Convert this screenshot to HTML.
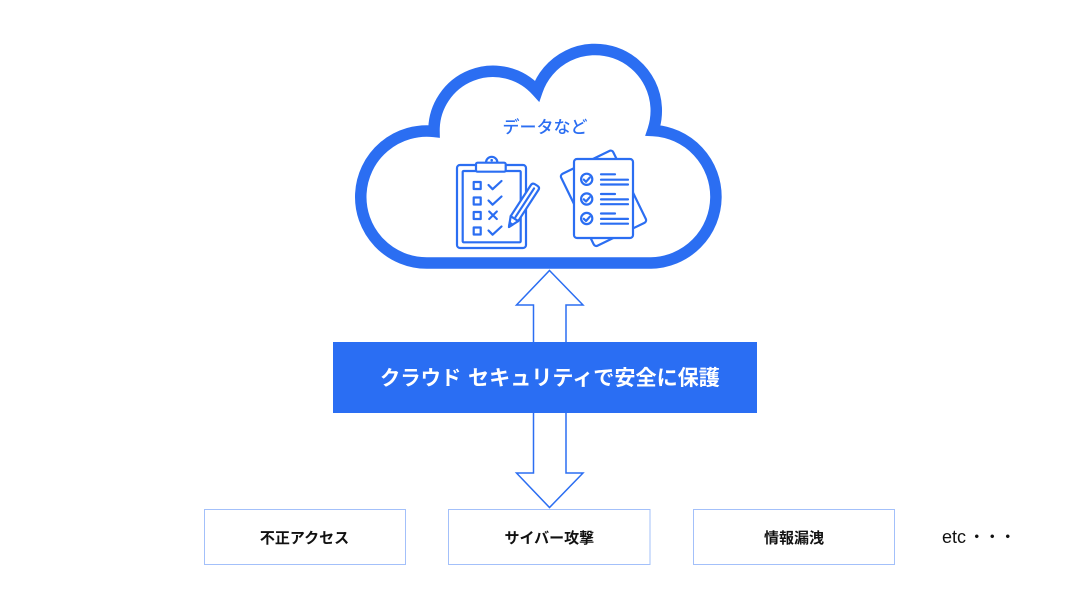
<!DOCTYPE html>
<html>
<head>
<meta charset="utf-8">
<style>
html,body{margin:0;padding:0;background:#fff;}
body{width:1080px;height:608px;overflow:hidden;}
svg{display:block;}
text{font-family:"Liberation Sans","Noto Sans CJK JP",sans-serif;}
</style>
</head>
<body>
<svg width="1080" height="608" viewBox="0 0 1080 608" xmlns="http://www.w3.org/2000/svg">
  <rect width="1080" height="608" fill="#ffffff"/>

  <!-- Cloud -->
  <path d="M 427 263 A 66 66 0 1 1 434 131.4 A 59 59 0 0 1 537 91 A 60.5 60.5 0 1 1 653 130.5 A 66.3 66.3 0 0 1 651 263 Z"
        fill="#ffffff" stroke="#2B6EF2" stroke-width="11.5" stroke-linejoin="miter"/>

  <text x="545" y="133" text-anchor="middle" font-size="17" font-weight="500" fill="#2B6EF2">データなど</text>

  <!-- Clipboard icon -->
  <g fill="none" stroke="#2B6EF2" stroke-width="2.2" stroke-linecap="round" stroke-linejoin="round">
    <rect x="457" y="165" width="69" height="83" rx="3" fill="#fff"/>
    <rect x="462.7" y="171" width="58" height="71.3" rx="1"/>
    <path d="M 486 162.5 A 5.7 5.7 0 0 1 497.4 162.5" fill="#fff"/>
    <rect x="476" y="162.7" width="29.7" height="9" rx="1.5" fill="#fff"/>
    <circle cx="491.7" cy="160.2" r="0.8" fill="#2B6EF2" stroke-width="1"/>
    <rect x="473.7" y="182" width="7" height="7"/>
    <rect x="473.7" y="197.5" width="7" height="7"/>
    <rect x="473.7" y="212" width="7" height="7"/>
    <rect x="473.7" y="227.5" width="7" height="7"/>
    <polyline points="488.5,185 492.6,189.2 501.5,181"/>
    <polyline points="488.5,200.5 492.6,204.7 501.5,196.5"/>
    <path d="M 489.2 211.5 L 496.8 219 M 496.8 211.5 L 489.2 219"/>
    <polyline points="488.5,230.5 492.6,234.7 501.5,226.5"/>
    <g transform="translate(509,227) rotate(33)">
      <path d="M 0 0 L -4.5 -10 L -4.5 -47 Q -4.5 -50 -1.5 -50 L 1.5 -50 Q 4.5 -50 4.5 -47 L 4.5 -10 Z" fill="#fff"/>
      <path d="M -4.5 -10 L 4.5 -10"/>
      <path d="M 0 -12 L 0 -46"/>
      <path d="M 0 0 L -1.8 -4 L 1.8 -4 Z" fill="#2B6EF2"/>
    </g>
  </g>

  <!-- Document icon -->
  <g fill="none" stroke="#2B6EF2" stroke-width="2.2" stroke-linecap="round" stroke-linejoin="round">
    <rect x="-29" y="-40" width="58" height="80" rx="3" fill="#fff" transform="translate(603.5,198.3) rotate(-26)"/>
    <rect x="574" y="159" width="59" height="79" rx="3" fill="#fff"/>
    <circle cx="586.7" cy="179.3" r="5.6"/>
    <circle cx="586.7" cy="199" r="5.6"/>
    <circle cx="586.7" cy="218.5" r="5.6"/>
    <polyline points="583.8,179.6 586,181.8 589.7,177.6"/>
    <polyline points="583.8,199.3 586,201.5 589.7,197.3"/>
    <polyline points="583.8,218.8 586,221 589.7,216.8"/>
    <path d="M 601 174.3 L 615 174.3 M 601 179.7 L 628 179.7 M 601 184.5 L 628 184.5"/>
    <path d="M 601 194 L 615 194 M 601 199.4 L 628 199.4 M 601 204.2 L 628 204.2"/>
    <path d="M 601 213.5 L 615 213.5 M 601 218.9 L 628 218.9 M 601 223.7 L 628 223.7"/>
  </g>

  <!-- Double arrow -->
  <polygon points="549.5,270.5 583,305 566,305 566,473 583,473 549.5,507.5 516.5,473 533.5,473 533.5,305 516.5,305"
           fill="#ffffff" stroke="#2B6EF2" stroke-width="1.5" stroke-linejoin="miter"/>

  <!-- Banner -->
  <rect x="333" y="342" width="424" height="71" fill="#2A6EF3"/>
  <text x="380" y="385" font-size="20.3" font-weight="700" fill="#ffffff">クラウド</text>
  <text x="468" y="385" font-size="21.1" font-weight="700" fill="#ffffff">セキュリティで安全に保護</text>

  <!-- Boxes -->
  <g fill="#ffffff" stroke="#A3C0FA" stroke-width="1">
    <rect x="204.5" y="509.5" width="201" height="55"/>
    <rect x="448.5" y="509.5" width="201.5" height="55"/>
    <rect x="693.5" y="509.5" width="201" height="55"/>
  </g>
  <g font-size="15" font-weight="700" fill="#111111" text-anchor="middle">
    <text x="304.5" y="543">不正アクセス</text>
    <text x="549.3" y="543">サイバー攻撃</text>
    <text x="794" y="543">情報漏洩</text>
  </g>
  <text x="942" y="543" font-size="18" fill="#111111">etc</text>
  <g font-size="17" fill="#111111" text-anchor="middle">
    <text x="976.7" y="543">・</text>
    <text x="992.2" y="543">・</text>
    <text x="1007.7" y="543">・</text>
  </g>
</svg>
</body>
</html>
